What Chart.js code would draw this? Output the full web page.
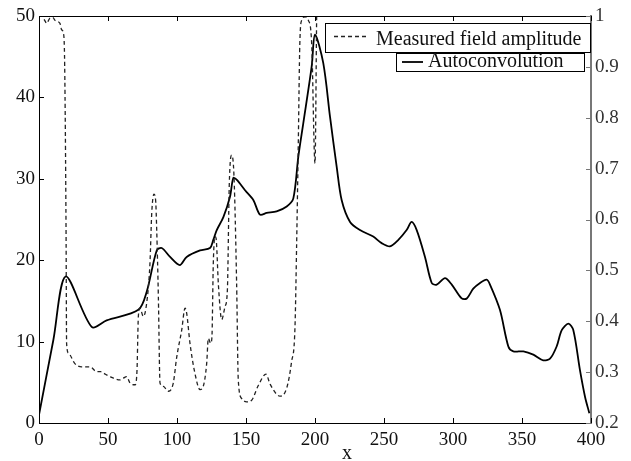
<!DOCTYPE html>
<html>
<head>
<meta charset="utf-8">
<script src="https://cdn.jsdelivr.net/npm/chart.js@4/dist/chart.umd.min.js"></script>
<style>
  html, body { margin: 0; padding: 0; background: #fff; }
  #box { width: 631px; height: 461px; }
</style>
</head>
<body>
<div id="box"><canvas id="chart" width="631" height="461"></canvas></div>
<script>
'use strict'

//measured field amplitude (dashed)
const ampX = [0, 2, 4, 5.6, 7.7, 10, 12, 15.2, 16.4, 17.7, 18.6, 19.6, 20, 21.3, 26, 30.9, 37, 41.8, 44.8, 48,
  51.4, 54, 58.7, 61, 63.5, 66, 69.6, 71, 72, 73.2, 75.6, 78, 80.4, 81.7, 83.3, 84.5, 85.3, 86.5, 87.7, 90.1,
  93.7, 97.3, 99.8, 103.4, 105.8, 107, 109.4, 113, 116.7, 119, 121.5, 122.7, 124.4, 125.3, 126.3, 127.5, 128.3, 130, 132.4, 134.8,
  136.5, 137.9, 139.6, 141.3, 143.2, 144.4, 146.9, 150.5, 154.1, 158.9, 164.5, 167.4, 174.6, 179.5, 183, 185.5, 186.7, 187.9, 189, 190.4,
  192.8, 195.1, 197.6, 200, 201.2];
const ampY = [49.9, 50, 49.5, 49.1, 49.7, 49.8, 49.4, 49.1, 48.3, 47.9, 44, 23.7, 9.8, 8.6, 7.3, 6.9, 6.9, 6.3, 6.3, 6.0,
  5.7, 5.5, 5.3, 5.5, 5.7, 4.9, 4.7, 6.4, 13.1, 14.1, 13.1, 14.7, 19.6, 25.8, 28.1, 27.4, 23.7, 15.5, 4.9, 4.5,
  3.9, 4.9, 8.1, 11.4, 14.1, 13.5, 9.8, 6.1, 4.1, 4.5, 7.3, 10.4, 9.8, 10.5, 19.6, 22.9, 22.7, 17, 12.7, 14.3,
  16.3, 29.4, 32.9, 30.3, 17.2, 5.3, 3.0, 2.6, 2.8, 4.6, 6.0, 4.8, 3.3, 4.3, 7.5, 11.8, 22, 34.4, 46.6, 49.5,
  49.9, 49.5, 46.6, 31.9, 50];

//autoconvolution (solid)
const convX = [0, 10.4, 19.3, 38.2, 49, 72, 78, 85.3, 88.9, 95, 102, 107, 116.7, 123.9, 126.3, 128.8, 133.6, 138.4, 140.8, 143.2,
  149.3, 155.3, 160.1, 165, 172.2, 179.5, 184.3, 187.9, 191.5, 197.6, 200, 206, 210.9, 215.7, 219.3, 225.4, 232.6, 242.2, 248.3, 254.3,
  260.4, 266.4, 270, 273.7, 279.7, 284.6, 288.2, 294.2, 299.1, 306.3, 310, 314.7, 319.6, 324.4, 326.8, 334, 340.1, 343.7, 351, 358.2,
  365.4, 370.3, 375.1, 378.8, 383.6, 387.2, 392, 395.7, 398.8];
const convY = [1, 10.2, 18.0, 11.8, 12.6, 13.9, 16.1, 21.2, 21.5, 20.4, 19.4, 20.4, 21.2, 21.5, 22.5, 23.7, 25.3, 27.8, 30.1, 29.9,
  28.6, 27.4, 25.6, 25.8, 26.0, 26.6, 27.6, 32.7, 36.8, 43.8, 47.7, 44.2, 37.6, 31.5, 27.4, 24.7, 23.7, 22.9, 22.1, 21.7,
  22.5, 23.7, 24.7, 23.7, 20.4, 17.2, 17.0, 17.8, 17.0, 15.3, 15.3, 16.5, 17.2, 17.6, 17.0, 13.9, 9.4, 8.8, 8.8, 8.4,
  7.7, 7.9, 9.4, 11.4, 12.2, 11.4, 6.5, 3.2, 1.2];

//ticks
const xTicks = [0, 50, 100, 150, 200, 250, 300, 350, 400];
const leftTicks = [0, 10, 20, 30, 40, 50];
const rightTicks = [0.2, 0.3, 0.4, 0.5, 0.6, 0.7, 0.8, 0.9, 1];

const seriesNames = ['Measured field amplitude', 'Autoconvolution'];
const xTitle = 'x';

const serif = '"Liberation Serif", "Times New Roman", serif';

function toPoints( xs, ys )
{
  return xs.map( ( v, i ) => ({ x: v, y: ys[i] }) );
}

//borders, inward ticks, legend and x title
const extras =
{
  id: 'extras',
  afterDraw( chart )
  {
    const ctx = chart.ctx;
    const a = chart.chartArea;
    const sx = chart.scales.x;
    const sy = chart.scales.y;
    const sy1 = chart.scales.y1;

    ctx.save();
    ctx.lineWidth = 1;
    ctx.strokeStyle = '#000';
    ctx.beginPath();
    ctx.moveTo( a.left, a.top + 0.5 );
    ctx.lineTo( a.right, a.top + 0.5 );

    xTicks.forEach( v =>
    {
      const p = Math.round( sx.getPixelForValue( v ) ) + 0.5;
      ctx.moveTo( p, a.bottom );
      ctx.lineTo( p, a.bottom - 5 );
      ctx.moveTo( p, a.top );
      ctx.lineTo( p, a.top + 5 );
    });

    leftTicks.forEach( v =>
    {
      const p = Math.round( sy.getPixelForValue( v ) ) + 0.5;
      ctx.moveTo( a.left, p );
      ctx.lineTo( a.left + 5, p );
    });
    ctx.stroke();

    ctx.strokeStyle = '#777';
    ctx.beginPath();
    rightTicks.forEach( v =>
    {
      const p = Math.round( sy1.getPixelForValue( v ) ) + 0.5;
      ctx.moveTo( a.right, p );
      ctx.lineTo( a.right - 5, p );
    });
    ctx.stroke();

    //legend boxes
    ctx.fillStyle = '#fff';
    ctx.strokeStyle = '#000';
    ctx.fillRect( 325, 23, 266, 30 );
    ctx.strokeRect( 325.5, 23.5, 265, 29 );
    ctx.fillRect( 396, 53, 189, 19 );
    ctx.strokeRect( 396.5, 53.5, 188, 18 );

    ctx.strokeStyle = '#222';
    ctx.lineWidth = 1.3;
    ctx.setLineDash( [4, 3] );
    ctx.beginPath();
    ctx.moveTo( 334, 36.5 );
    ctx.lineTo( 366, 36.5 );
    ctx.stroke();
    ctx.setLineDash( [] );

    ctx.strokeStyle = '#000';
    ctx.lineWidth = 1.8;
    ctx.beginPath();
    ctx.moveTo( 402, 62 );
    ctx.lineTo( 423, 62 );
    ctx.stroke();

    ctx.fillStyle = '#111';
    ctx.font = '20px ' + serif;
    ctx.textAlign = 'left';
    ctx.textBaseline = 'alphabetic';
    ctx.fillText( seriesNames[0], 376, 45 );
    ctx.fillText( seriesNames[1], 428, 67 );

    //x axis title
    ctx.textAlign = 'center';
    ctx.fillText( xTitle, 347, 459 );
    ctx.restore();
  }
};

new Chart( document.getElementById( 'chart' ),
{
  type: 'line',
  data:
  {
    datasets:
    [
      {
        label: seriesNames[0],
        data: toPoints( ampX, ampY ),
        borderColor: '#222',
        borderWidth: 1.3,
        borderDash: [4, 3],
        pointRadius: 0,
        cubicInterpolationMode: 'monotone',
        yAxisID: 'y'
      },
      {
        label: seriesNames[1],
        data: toPoints( convX, convY ),
        borderColor: '#000',
        borderWidth: 1.8,
        pointRadius: 0,
        tension: 0.3,
        yAxisID: 'y'
      }
    ]
  },
  options:
  {
    responsive: false,
    animation: false,
    devicePixelRatio: 1,
    layout: { padding: { top: 16, left: 0, right: 0, bottom: 0 } },
    plugins:
    {
      legend: { display: false },
      tooltip: { enabled: false }
    },
    scales:
    {
      x:
      {
        type: 'linear',
        min: 0,
        max: 400,
        afterBuildTicks: s => { s.ticks = xTicks.map( v => ({ value: v }) ); },
        afterFit: s => { s.height = 38; },
        grid: { display: false, drawTicks: false },
        border: { display: true, color: '#000', width: 1 },
        ticks: { padding: 6, maxRotation: 0, color: '#111', font: { family: serif, size: 19 } }
      },
      y:
      {
        type: 'linear',
        position: 'left',
        min: 0,
        max: 50,
        afterBuildTicks: s => { s.ticks = leftTicks.map( v => ({ value: v }) ); },
        afterFit: s => { s.width = 39; },
        grid: { display: false, drawTicks: false },
        border: { display: true, color: '#000', width: 1 },
        ticks: { padding: 4, color: '#111', font: { family: serif, size: 19 } }
      },
      y1:
      {
        type: 'linear',
        position: 'right',
        min: 0.2,
        max: 1,
        afterBuildTicks: s => { s.ticks = rightTicks.map( v => ({ value: v }) ); },
        afterFit: s => { s.width = 40; },
        grid: { display: false, drawTicks: false },
        border: { display: true, color: '#777', width: 2 },
        ticks: { padding: 4, color: '#333', font: { family: serif, size: 19 }, callback: v => String( v ) }
      }
    }
  },
  plugins: [extras]
});
</script>
</body>
</html>
